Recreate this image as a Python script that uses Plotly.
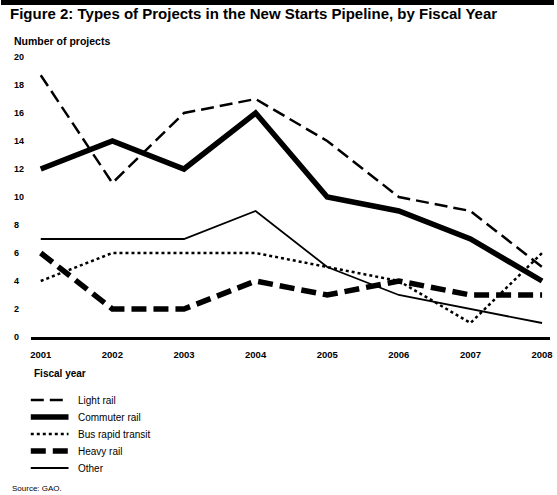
import plotly.graph_objects as go

years = [2001, 2002, 2003, 2004, 2005, 2006, 2007, 2008]
year_labels = ["2001", "2002", "2003", "2004", "2005", "2006", "2007", "2008"]

light_rail = [18.7, 11, 16, 17, 14, 10, 9, 5]
commuter_rail = [12, 14, 12, 16, 10, 9, 7, 4]
bus_rapid_transit = [4, 6, 6, 6, 5, 4, 1, 6]
heavy_rail = [6, 2, 2, 4, 3, 4, 3, 3]
other = [7, 7, 7, 9, 5, 3, 2, 1]

series_names = ["Light rail", "Commuter rail", "Bus rapid transit", "Heavy rail", "Other"]
y_ticks = [0, 2, 4, 6, 8, 10, 12, 14, 16, 18, 20]

W, H = 557, 495
FONT = "Arial, Liberation Sans, sans-serif"


def py(px):
    return 1 - px / H


def pxx(px):
    return px / W


styles = [
    dict(color="black", width=2.5, dash="13px,6px"),
    dict(color="black", width=5.5),
    dict(color="black", width=2.5, dash="dot"),
    dict(color="black", width=5.5, dash="15px,7px"),
    dict(color="black", width=1.8),
]
values = [light_rail, commuter_rail, bus_rapid_transit, heavy_rail, other]

fig = go.Figure()
for name, vals, line in zip(series_names, values, styles):
    fig.add_trace(go.Scatter(x=years, y=vals, mode="lines", name=name, line=line,
                             cliponaxis=False, showlegend=False))

annotations = [
    dict(text="<b>Figure 2: Types of Projects in the New Starts Pipeline, by Fiscal Year</b>",
         x=pxx(7), y=py(14), xref="paper", yref="paper", xanchor="left", yanchor="middle",
         showarrow=False, font=dict(size=15, color="black", family=FONT)),
    dict(text="<b>Number of projects</b>",
         x=pxx(11), y=py(41), xref="paper", yref="paper", xanchor="left", yanchor="middle",
         showarrow=False, font=dict(size=10.5, color="black", family=FONT)),
    dict(text="<b>Fiscal year</b>",
         x=pxx(31), y=py(373), xref="paper", yref="paper", xanchor="left", yanchor="middle",
         showarrow=False, font=dict(size=10, color="black", family=FONT)),
    dict(text="Source: GAO.",
         x=pxx(9), y=py(488), xref="paper", yref="paper", xanchor="left", yanchor="middle",
         showarrow=False, font=dict(size=8, color="black", family=FONT)),
]
for t in y_ticks:
    annotations.append(dict(text="<b>%d</b>" % t, x=pxx(11), y=t, xref="paper", yref="y",
                            xanchor="left", yanchor="middle", showarrow=False,
                            font=dict(size=9, color="black", family=FONT)))

shapes = [dict(type="rect", xref="paper", yref="paper", x0=0, x1=1, y0=py(5), y1=1,
               fillcolor="black", line=dict(width=0))]

# legend drawn as sample lines + labels
legend_rows = [400, 417, 434, 451, 468]
for name, line, ry in zip(series_names, styles, legend_rows):
    shapes.append(dict(type="line", xref="paper", yref="paper",
                       x0=pxx(30), x1=pxx(68), y0=py(ry), y1=py(ry),
                       line=dict(color="black", width=line["width"],
                                 dash=line.get("dash", "solid"))))
    annotations.append(dict(text=name, x=pxx(76), y=py(ry), xref="paper", yref="paper",
                            xanchor="left", yanchor="middle", showarrow=False,
                            font=dict(size=10, color="black", family=FONT)))

fig.update_layout(
    width=W, height=H,
    margin=dict(l=0, r=0, t=0, b=0),
    paper_bgcolor="white", plot_bgcolor="white",
    font=dict(family=FONT, color="black"),
    showlegend=False,
    xaxis=dict(domain=[pxx(30), pxx(553)], range=[2000.861, 2008.111],
               tickvals=years, ticktext=["<b>%s</b>" % s for s in year_labels],
               tickfont=dict(size=9.5, family=FONT, color="black"),
               showline=True, linecolor="black", linewidth=2.5, showgrid=False,
               zeroline=False, ticks="", ticklabelstandoff=7, anchor="y"),
    yaxis=dict(domain=[py(337), py(57)], range=[0, 20], showticklabels=False,
               showgrid=False, zeroline=False, showline=False, ticks=""),
    annotations=annotations,
    shapes=shapes,
)

fig.write_html("out.html", config={"displayModeBar": False},
               post_script="document.body.style.margin='0';document.body.style.padding='0';")
